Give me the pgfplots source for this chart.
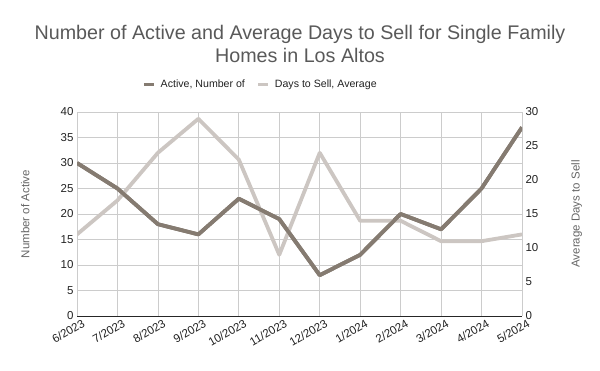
\documentclass[border=0pt]{standalone}
\usepackage{fontspec}
\setmainfont{Liberation Sans}
\usepackage{pgfplots}
\pgfplotsset{compat=1.18}
\definecolor{activec}{HTML}{857B71}
\definecolor{daysc}{HTML}{CCC6C2}
\definecolor{gridc}{HTML}{CCCCCC}
\definecolor{titlec}{HTML}{595959}
\definecolor{labc}{HTML}{666666}
\definecolor{tickc}{HTML}{222222}
\begin{document}
\begin{tikzpicture}
\path[use as bounding box] (0pt,0pt) rectangle (600pt,371pt);
\node[font=\fontsize{19.7}{23}\selectfont, text=titlec, align=center] at (300pt,327.5pt) {Number of Active and Average Days to Sell for Single Family\\Homes in Los Altos};
\pgfplotsset{
  common/.style={
    at={(77pt,55pt)}, anchor=south west, width=445pt, height=204pt, scale only axis,
    xmin=0, xmax=11, major tick length=0pt,
    /pgf/number format/assume math mode=true,
    tick label style={font=\fontsize{11.5}{13}\selectfont, text=tickc},
    label style={font=\fontsize{11.5}{13}\selectfont, text=labc},
  }
}
\begin{axis}[common,
  ymin=0, ymax=40, ytick={0,5,...,40},
  xtick={0,...,11},
  xticklabels={6/2023,7/2023,8/2023,9/2023,10/2023,11/2023,12/2023,1/2024,2/2024,3/2024,4/2024,5/2024},
  x tick label style={rotate=30, anchor=north east, xshift=6pt, yshift=-1pt},
  grid=major, grid style={gridc, line width=0.8pt},
  axis x line*=bottom, axis y line*=left,
  x axis line style={draw=black!85, line width=0.9pt, -},
  y axis line style={draw=none},
  ylabel={Number of Active},
  ylabel style={at={(axis description cs:-0.099,0.5)}, anchor=south},
  legend columns=2,
  legend style={at={(0.5,1)}, anchor=south, xshift=-39pt, yshift=19pt, draw=none, fill=none,
    font=\fontsize{10.6}{13}\selectfont, text=tickc,
    /tikz/every even column/.append style={column sep=10pt}},
  legend image code/.code={\draw[line width=3pt,#1] (0pt,0pt) -- (10pt,0pt); \path (13pt,0pt);},
]
\addplot[activec, line width=3.8pt, line join=round] coordinates {
(0,30) (1,25) (2,18) (3,16) (4,23) (5,19) (6,8) (7,12) (8,20) (9,17) (10,25) (11,37)};
\addlegendentry{Active, Number of}
\addlegendimage{daysc, line width=3pt}
\addlegendentry{Days to Sell, Average}
\end{axis}
\begin{axis}[common,
  ymin=0, ymax=30, ytick={0,5,...,30},
  axis x line=none, axis y line*=right,
  y axis line style={draw=none},
  ylabel={Average Days to Sell},
  ylabel style={at={(axis description cs:1.103,0.5)}, anchor=north},
]
\addplot[daysc, line width=3.8pt, line join=round] coordinates {
(0,12) (1,17) (2,24) (3,29) (4,23) (5,9) (6,24) (7,14) (8,14) (9,11) (10,11) (11,12)};
\end{axis}
\begin{axis}[common, ymin=0, ymax=40, axis lines=none]
\addplot[activec, line width=3.8pt, line join=round] coordinates {
(0,30) (1,25) (2,18) (3,16) (4,23) (5,19) (6,8) (7,12) (8,20) (9,17) (10,25) (11,37)};
\end{axis}
\end{tikzpicture}
\end{document}
